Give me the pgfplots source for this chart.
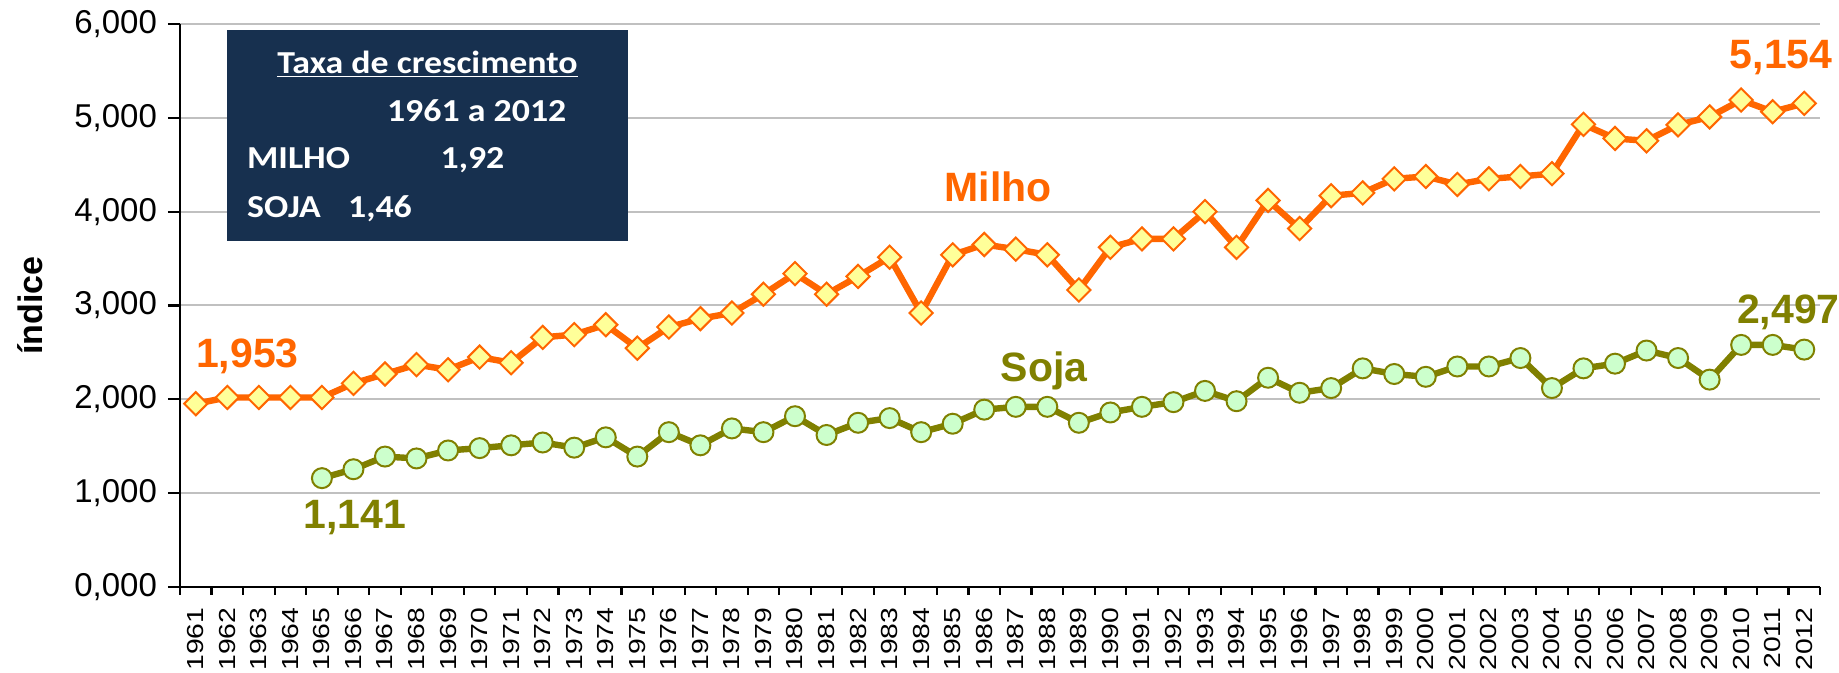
\documentclass[border=0pt]{standalone}
\usepackage{fontspec}
\setmainfont{Liberation Sans}
\newfontfamily\boxfont{Carlito}
\usepackage{pgfplots}
\pgfplotsset{compat=1.18}
\definecolor{milho}{HTML}{FF6600}
\definecolor{milhofill}{HTML}{FFFF99}
\definecolor{soja}{HTML}{808000}
\definecolor{sojafill}{HTML}{CCFFCC}
\definecolor{boxcol}{HTML}{17304F}
\definecolor{gridcol}{HTML}{C0C0C0}

\pgfplotstableread{
x y
0 1.953
1 2.02
2 2.02
3 2.02
4 2.02
5 2.17
6 2.27
7 2.37
8 2.315
9 2.45
10 2.39
11 2.66
12 2.69
13 2.795
14 2.545
15 2.77
16 2.86
17 2.92
18 3.12
19 3.34
20 3.12
21 3.31
22 3.515
23 2.92
24 3.54
25 3.65
26 3.60
27 3.54
28 3.165
29 3.62
30 3.71
31 3.71
32 4.00
33 3.62
34 4.12
35 3.82
36 4.17
37 4.20
38 4.35
39 4.375
40 4.29
41 4.35
42 4.375
43 4.405
44 4.93
45 4.78
46 4.755
47 4.925
48 5.01
49 5.19
50 5.065
51 5.154
}\milhotable

\pgfplotstableread{
x y
4 1.16
5 1.255
6 1.39
7 1.37
8 1.455
9 1.48
10 1.51
11 1.54
12 1.485
13 1.595
14 1.39
15 1.65
16 1.51
17 1.69
18 1.65
19 1.82
20 1.62
21 1.75
22 1.80
23 1.65
24 1.74
25 1.89
26 1.92
27 1.92
28 1.75
29 1.86
30 1.92
31 1.97
32 2.09
33 1.98
34 2.23
35 2.07
36 2.12
37 2.33
38 2.27
39 2.24
40 2.35
41 2.35
42 2.44
43 2.12
44 2.33
45 2.38
46 2.52
47 2.44
48 2.21
49 2.58
50 2.58
51 2.53
}\sojatable

\tikzset{boxtext/.style={text=white, inner sep=0pt, xscale=1.12, font=\boxfont\bfseries\fontsize{16}{16}\selectfont}}

\begin{document}
\begin{tikzpicture}
\useasboundingbox (-90pt,-43pt) rectangle (829.5pt,293.5pt);
\begin{axis}[
  scale only axis,
  width=820pt, height=281.5pt,
  xmin=-0.5, xmax=51.5, ymin=0, ymax=6,
  axis x line*=bottom, axis y line*=left,
  axis line style={line width=1.2pt, black},
  ytick={0,1,2,3,4,5,6},
  ymajorgrids,
  grid style={draw=gridcol, line width=1pt},
  tick align=outside,
  major tick length=6pt,
  every tick/.style={black, line width=1.1pt},
  yticklabel style={font=\fontsize{16.5}{16.5}\selectfont, xshift=-2pt},
  y tick label style={/pgf/number format/.cd, fixed, fixed zerofill, precision=3, use comma, assume math mode=true},
  xtick={0,...,51},
  xticklabels={1961,1962,1963,1964,1965,1966,1967,1968,1969,1970,1971,1972,1973,1974,1975,1976,1977,1978,1979,1980,1981,1982,1983,1984,1985,1986,1987,1988,1989,1990,1991,1992,1993,1994,1995,1996,1997,1998,1999,2000,2001,2002,2003,2004,2005,2006,2007,2008,2009,2010,2011,2012},
  xtick style={draw=none},
  xticklabel style={rotate=90, xscale=1.22, anchor=east, font=\fontsize{11.6}{11.6}\selectfont},
  extra x ticks={-0.5,0.5,...,51.5},
  extra x tick labels={},
  extra x tick style={xtick style={draw=black, line width=1.1pt}, major tick length=4pt, grid=none},
  ylabel={índice},
  ylabel style={font=\fontsize{17}{17}\selectfont\bfseries, at={(axis description cs:-0.0915,0.5)}, anchor=center},
  clip=false,
]
\fill[boxcol] (axis cs:1.0,3.692) rectangle (axis cs:13.69,5.94);
\node[boxtext, anchor=base] at (axis cs:7.35,5.472) {\underline{Taxa de crescimento}};
\node[boxtext, anchor=base] at (axis cs:8.907,4.958) {1961 a 2012};
\node[boxtext, anchor=base west] at (axis cs:1.615,4.458) {MILHO};
\node[boxtext, anchor=base] at (axis cs:8.774,4.458) {1,92};
\node[boxtext, anchor=base west] at (axis cs:1.615,3.941) {SOJA};
\node[boxtext, anchor=base] at (axis cs:5.84,3.941) {1,46};

\addplot[color=milho, line width=3.2pt, mark=square*, mark size=4.1pt,
  mark options={fill=milhofill, draw=milho, line width=1pt, rotate=45}] table[x=x,y=y] {\milhotable};
\addplot[color=soja, line width=3.2pt, mark=*, mark size=5pt,
  mark options={fill=sojafill, draw=soja, line width=1pt}] table[x=x,y=y] {\sojatable};

\node[text=milho, font=\fontsize{20.5}{20.5}\selectfont\bfseries] at (axis cs:1.64,2.46) {1,953};
\node[text=soja, font=\fontsize{20.5}{20.5}\selectfont\bfseries] at (axis cs:5.04,0.74) {1,141};
\node[text=milho, font=\fontsize{20.5}{20.5}\selectfont\bfseries] at (axis cs:25.44,4.265) {Milho};
\node[text=soja, font=\fontsize{20.5}{20.5}\selectfont\bfseries] at (axis cs:26.9,2.30) {Soja};
\node[text=milho, font=\fontsize{20.5}{20.5}\selectfont\bfseries] at (axis cs:50.27,5.64) {5,154};
\node[text=soja, font=\fontsize{20.5}{20.5}\selectfont\bfseries] at (axis cs:50.5,2.93) {2,497};
\end{axis}
\end{tikzpicture}
\end{document}
